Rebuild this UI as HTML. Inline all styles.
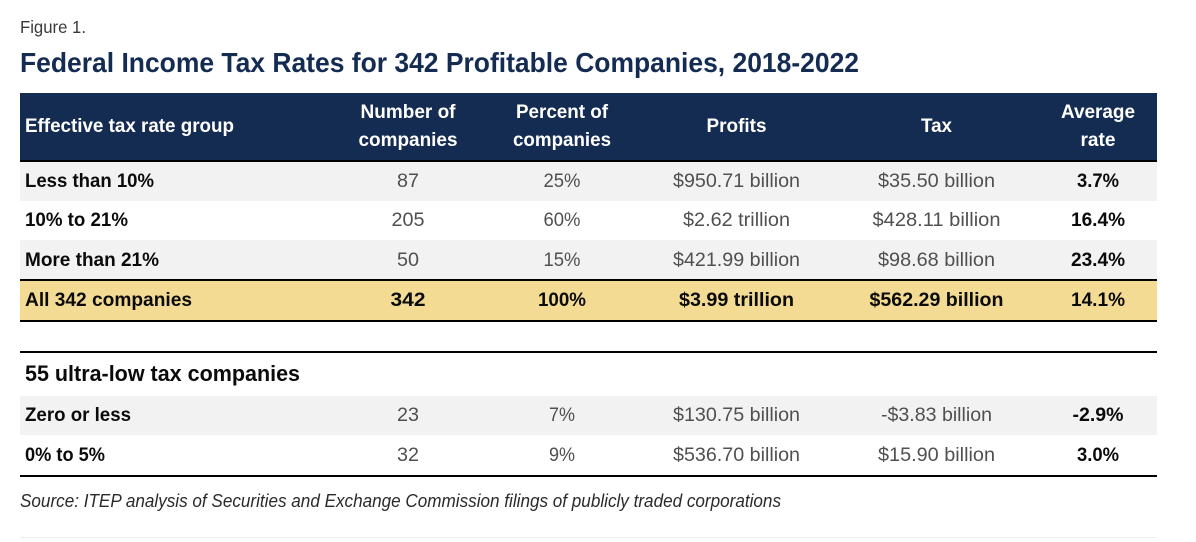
<!DOCTYPE html>
<html lang="en">
<head>
<meta charset="utf-8">
<title>Federal Income Tax Rates for 342 Profitable Companies, 2018-2022</title>
<style>
html,body{margin:0;padding:0;background:#fff;width:1196px;height:542px;overflow:hidden}
svg{display:block}
text{font-family:"Liberation Sans",sans-serif}
.m{text-anchor:middle}
.b{font-weight:700;font-size:19.5px;fill:#0b0b0b}
.h{font-weight:700;font-size:19.5px;fill:#fff}
.v{font-size:19.5px;fill:#505050}
</style>
</head>
<body>
<svg width="1196" height="542" viewBox="0 0 1196 542">
<text x="20" y="33" font-size="17.5" fill="#3a3a3a" textLength="66" lengthAdjust="spacingAndGlyphs">Figure 1.</text>
<text x="20" y="72" font-size="28" font-weight="700" fill="#152c52" textLength="839" lengthAdjust="spacingAndGlyphs">Federal Income Tax Rates for 342 Profitable Companies, 2018-2022</text>

<rect x="20" y="93" width="1137" height="67" fill="#152c52"/>
<rect x="20" y="160" width="1137" height="2" fill="#000"/>
<rect x="20" y="162" width="1137" height="39" fill="#f2f2f2"/>
<rect x="20" y="240" width="1137" height="39" fill="#f2f2f2"/>
<rect x="20" y="281" width="1137" height="39" fill="#f3db94"/>
<rect x="20" y="279" width="1137" height="2" fill="#000"/>
<rect x="20" y="320" width="1137" height="2" fill="#000"/>
<rect x="20" y="351" width="1137" height="2" fill="#000"/>
<rect x="20" y="396" width="1137" height="39" fill="#f2f2f2"/>
<rect x="20" y="475" width="1137" height="2" fill="#000"/>
<rect x="20" y="537" width="1137" height="1" fill="#eeeeee"/>

<g>
<text class="h" x="25" y="132" textLength="209" lengthAdjust="spacingAndGlyphs">Effective tax rate group</text>
<text class="h m" x="408" y="118" textLength="95" lengthAdjust="spacingAndGlyphs">Number of</text>
<text class="h m" x="408" y="146" textLength="99" lengthAdjust="spacingAndGlyphs">companies</text>
<text class="h m" x="562" y="118" textLength="92" lengthAdjust="spacingAndGlyphs">Percent of</text>
<text class="h m" x="562" y="146" textLength="98" lengthAdjust="spacingAndGlyphs">companies</text>
<text class="h m" x="736.500" y="132" textLength="60" lengthAdjust="spacingAndGlyphs">Profits</text>
<text class="h m" x="936.500" y="132" textLength="31" lengthAdjust="spacingAndGlyphs">Tax</text>
<text class="h m" x="1098" y="118" textLength="74" lengthAdjust="spacingAndGlyphs">Average</text>
<text class="h m" x="1098" y="146" textLength="35" lengthAdjust="spacingAndGlyphs">rate</text>
</g>

<g>
<text class="b" x="25" y="187" textLength="129" lengthAdjust="spacingAndGlyphs">Less than 10%</text>
<text class="v m" x="408" y="187" textLength="22" lengthAdjust="spacingAndGlyphs">87</text>
<text class="v m" x="562" y="187" textLength="37" lengthAdjust="spacingAndGlyphs">25%</text>
<text class="v m" x="736.500" y="187" textLength="127" lengthAdjust="spacingAndGlyphs">$950.71 billion</text>
<text class="v m" x="936.500" y="187" textLength="117" lengthAdjust="spacingAndGlyphs">$35.50 billion</text>
<text class="b m" x="1098" y="187" textLength="42" lengthAdjust="spacingAndGlyphs">3.7%</text>
</g>

<g>
<text class="b" x="25" y="226" textLength="103" lengthAdjust="spacingAndGlyphs">10% to 21%</text>
<text class="v m" x="408" y="226" textLength="33" lengthAdjust="spacingAndGlyphs">205</text>
<text class="v m" x="562" y="226" textLength="37" lengthAdjust="spacingAndGlyphs">60%</text>
<text class="v m" x="736.500" y="226" textLength="107" lengthAdjust="spacingAndGlyphs">$2.62 trillion</text>
<text class="v m" x="936.500" y="226" textLength="128" lengthAdjust="spacingAndGlyphs">$428.11 billion</text>
<text class="b m" x="1098" y="226" textLength="54" lengthAdjust="spacingAndGlyphs">16.4%</text>
</g>

<g>
<text class="b" x="25" y="266" textLength="134" lengthAdjust="spacingAndGlyphs">More than 21%</text>
<text class="v m" x="408" y="266" textLength="22" lengthAdjust="spacingAndGlyphs">50</text>
<text class="v m" x="562" y="266" textLength="37" lengthAdjust="spacingAndGlyphs">15%</text>
<text class="v m" x="736.500" y="266" textLength="127" lengthAdjust="spacingAndGlyphs">$421.99 billion</text>
<text class="v m" x="936.500" y="266" textLength="117" lengthAdjust="spacingAndGlyphs">$98.68 billion</text>
<text class="b m" x="1098" y="266" textLength="54" lengthAdjust="spacingAndGlyphs">23.4%</text>
</g>

<g>
<text class="b" x="25" y="306" textLength="167" lengthAdjust="spacingAndGlyphs">All 342 companies</text>
<text class="b m" x="408" y="306" textLength="35" lengthAdjust="spacingAndGlyphs">342</text>
<text class="b m" x="562" y="306" textLength="48" lengthAdjust="spacingAndGlyphs">100%</text>
<text class="b m" x="736.500" y="306" textLength="115" lengthAdjust="spacingAndGlyphs">$3.99 trillion</text>
<text class="b m" x="936.500" y="306" textLength="134" lengthAdjust="spacingAndGlyphs">$562.29 billion</text>
<text class="b m" x="1098" y="306" textLength="54" lengthAdjust="spacingAndGlyphs">14.1%</text>
</g>

<text x="25" y="381" font-size="22" font-weight="700" fill="#0b0b0b" textLength="275" lengthAdjust="spacingAndGlyphs">55 ultra-low tax companies</text>

<g>
<text class="b" x="25" y="421" textLength="106" lengthAdjust="spacingAndGlyphs">Zero or less</text>
<text class="v m" x="408" y="421" textLength="22" lengthAdjust="spacingAndGlyphs">23</text>
<text class="v m" x="562" y="421" textLength="26" lengthAdjust="spacingAndGlyphs">7%</text>
<text class="v m" x="736.500" y="421" textLength="127" lengthAdjust="spacingAndGlyphs">$130.75 billion</text>
<text class="v m" x="936.500" y="421" textLength="111" lengthAdjust="spacingAndGlyphs">-$3.83 billion</text>
<text class="b m" x="1098" y="421" textLength="51" lengthAdjust="spacingAndGlyphs">-2.9%</text>
</g>

<g>
<text class="b" x="25" y="461" textLength="80" lengthAdjust="spacingAndGlyphs">0% to 5%</text>
<text class="v m" x="408" y="461" textLength="22" lengthAdjust="spacingAndGlyphs">32</text>
<text class="v m" x="562" y="461" textLength="26" lengthAdjust="spacingAndGlyphs">9%</text>
<text class="v m" x="736.500" y="461" textLength="127" lengthAdjust="spacingAndGlyphs">$536.70 billion</text>
<text class="v m" x="936.500" y="461" textLength="117" lengthAdjust="spacingAndGlyphs">$15.90 billion</text>
<text class="b m" x="1098" y="461" textLength="42" lengthAdjust="spacingAndGlyphs">3.0%</text>
</g>

<text x="20" y="507" font-size="18" font-style="italic" fill="#2a2a2a" textLength="761" lengthAdjust="spacingAndGlyphs">Source: ITEP analysis of Securities and Exchange Commission filings of publicly traded corporations</text>
</svg>
</body>
</html>
